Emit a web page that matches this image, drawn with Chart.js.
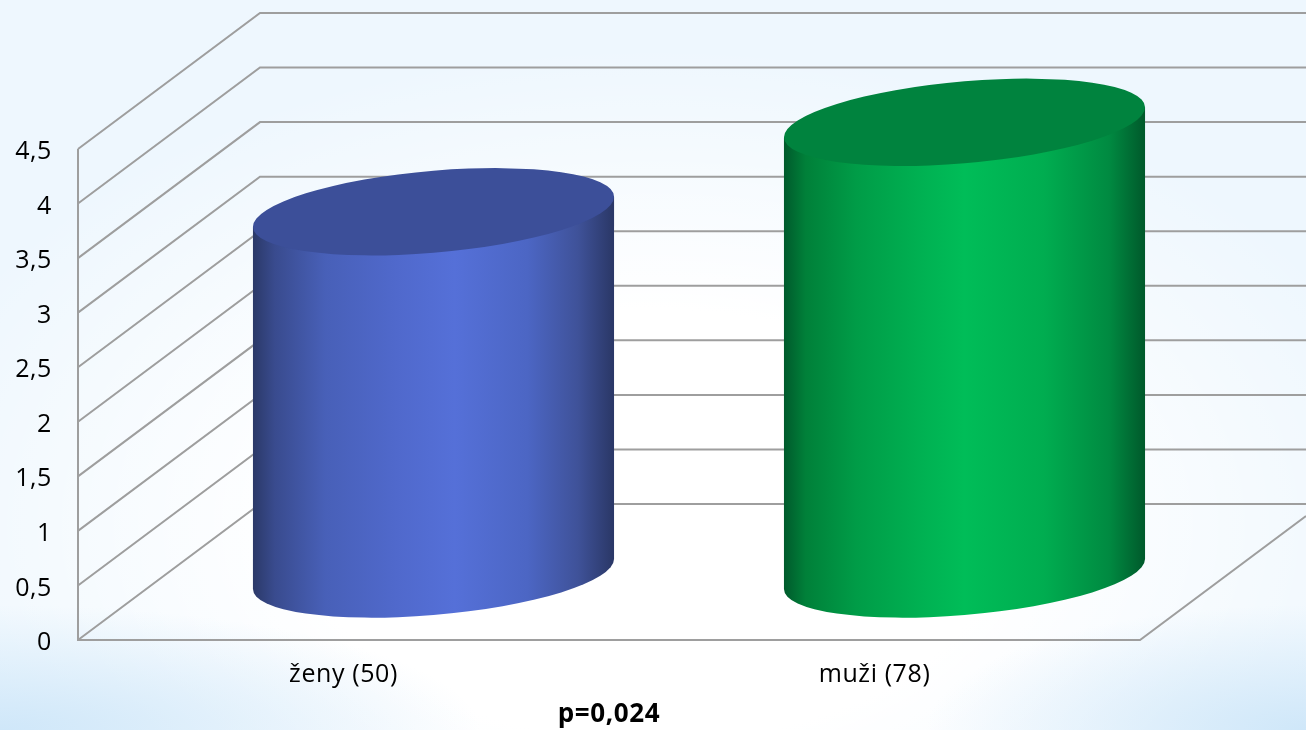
<!DOCTYPE html>
<html lang="cs">
<head>
<meta charset="utf-8">
<title>ženy / muži</title>
<script src="https://cdn.jsdelivr.net/npm/chart.js@4/dist/chart.umd.min.js"></script>
<style>
  html, body { margin: 0; padding: 0; }
  body {
    width: 1306px; height: 730px; overflow: hidden;
    background:
      radial-gradient(ellipse 480px 125px at 0% 100%, #cfe7f9, rgba(207,231,249,0.55) 45%, rgba(207,231,249,0)),
      radial-gradient(ellipse 380px 125px at 100% 100%, #cfe7f9, rgba(207,231,249,0.55) 45%, rgba(207,231,249,0)),
      radial-gradient(ellipse 780px 480px at 50% 72%, #fff 45%, rgba(255,255,255,0) 100%),
      #eef7fe;
  }
  canvas { display: block; }
</style>
</head>
<body>
<canvas id="myChart" width="1306" height="730"></canvas>
<script>
const categories = ['ženy (50)', 'muži (78)'];
const values = [3.32, 4.14];
const axisTitle = 'p=0,024';

// barvy válců
const bodyStops = [
  [[0, '#2b3968'], [0.06, '#394b8e'], [0.2, '#4860b8'], [0.4, '#5069cc'], [0.56, '#5570d8'], [0.76, '#4c66c4'], [0.9, '#3f5299'], [1, '#2a3766']],
  [[0, '#005a2c'], [0.06, '#008039'], [0.2, '#009c47'], [0.38, '#00b152'], [0.5, '#00bd58'], [0.72, '#00ad50'], [0.9, '#008a41'], [1, '#00592b']]
];
const topColors = ['#3c4f99', '#00833e'];

// posun zadní stěny a středu válců vůči přední rovině
const WALL_DX = 182, WALL_DY = -136;
const BAR_DX = 90, BAR_DY = -66;
const SKEW = 15, RY = 41;

const ctx = document.getElementById('myChart');

function line(c, pts) {
  c.beginPath();
  pts.forEach((p, i) => i ? c.lineTo(p[0], p[1]) : c.moveTo(p[0], p[1]));
  c.stroke();
}

// stěny a mřížka v perspektivě
const walls = {
  id: 'walls',
  beforeDatasetsDraw(chart) {
    const c = chart.ctx, y = chart.scales.y, a = chart.chartArea;
    c.save();
    c.strokeStyle = '#9e9e9e';
    c.lineWidth = 2;
    y.ticks.forEach(t => {
      const py = y.getPixelForValue(t.value);
      line(c, [[a.left, py], [a.left + WALL_DX, py + WALL_DY], [chart.width, py + WALL_DY]]);
    });
    const k = (chart.width - a.right) / WALL_DX;
    line(c, [[a.left, y.getPixelForValue(4.5)], [a.left, a.bottom], [a.right, a.bottom],
      [chart.width, a.bottom + WALL_DY * k]]);
    c.restore();
  }
};

// šikmá elipsa: podstava i víko válce
function ellipsePath(c, cx, cy, rx, start, end, ccw) {
  c.save();
  c.transform(1, -SKEW / rx, 0, 1, cx, cy);
  c.ellipse(0, 0, rx, RY, 0, start, end, ccw);
  c.restore();
}

const cylinders = {
  id: 'cylinders',
  afterDatasetsDraw(chart) {
    const c = chart.ctx;
    chart.getDatasetMeta(0).data.forEach((bar, i) => {
      const rx = bar.width / 2;
      const cx = bar.x + BAR_DX;
      const yTop = bar.y + BAR_DY;
      const yBase = bar.base + BAR_DY;

      const grad = c.createLinearGradient(cx - rx, 0, cx + rx, 0);
      bodyStops[i].forEach(s => grad.addColorStop(s[0], s[1]));

      c.beginPath();
      ellipsePath(c, cx, yBase, rx, Math.PI, 0, true);
      c.lineTo(cx + rx, yTop - SKEW);
      c.lineTo(cx - rx, yTop + SKEW);
      c.closePath();
      c.fillStyle = grad;
      c.fill();

      c.beginPath();
      ellipsePath(c, cx, yTop, rx, 0, Math.PI * 2, false);
      c.fillStyle = topColors[i];
      c.fill();
    });
  }
};

// rozpal písma popisků
const spacing = {
  id: 'spacing',
  beforeUpdate(chart) { chart.ctx.letterSpacing = '0.6px'; },
  beforeDraw(chart) { chart.ctx.letterSpacing = '0.6px'; }
};

new Chart(ctx, {
  type: 'bar',
  data: {
    labels: categories,
    datasets: [{
      data: values,
      backgroundColor: 'rgba(0,0,0,0)',
      barPercentage: 0.68,
      categoryPercentage: 1
    }]
  },
  options: {
    responsive: false,
    animation: false,
    layout: { padding: { top: 149, right: 166, left: 0, bottom: 0 } },
    plugins: { legend: { display: false }, tooltip: { enabled: false } },
    scales: {
      x: {
        afterFit(scale) { scale.height = 90; },
        grid: { display: false, drawTicks: false },
        border: { display: false },
        ticks: { color: '#000', padding: 20, maxRotation: 0, font: { family: 'Open Sans', size: 25 } },
        title: {
          display: true,
          text: axisTitle,
          color: '#000',
          padding: { top: 10, bottom: 0 },
          font: { family: 'Open Sans', size: 26, weight: 'bold' }
        }
      },
      y: {
        min: 0,
        max: 4.5,
        afterFit(scale) { scale.width = 78; },
        grid: { display: false, drawTicks: false },
        border: { display: false },
        ticks: {
          stepSize: 0.5,
          color: '#000',
          padding: 26,
          labelOffset: 3,
          font: { family: 'Open Sans', size: 25 },
          callback: v => String(v).replace('.', ',')
        }
      }
    }
  },
  plugins: [walls, cylinders, spacing]
});
</script>
</body>
</html>
